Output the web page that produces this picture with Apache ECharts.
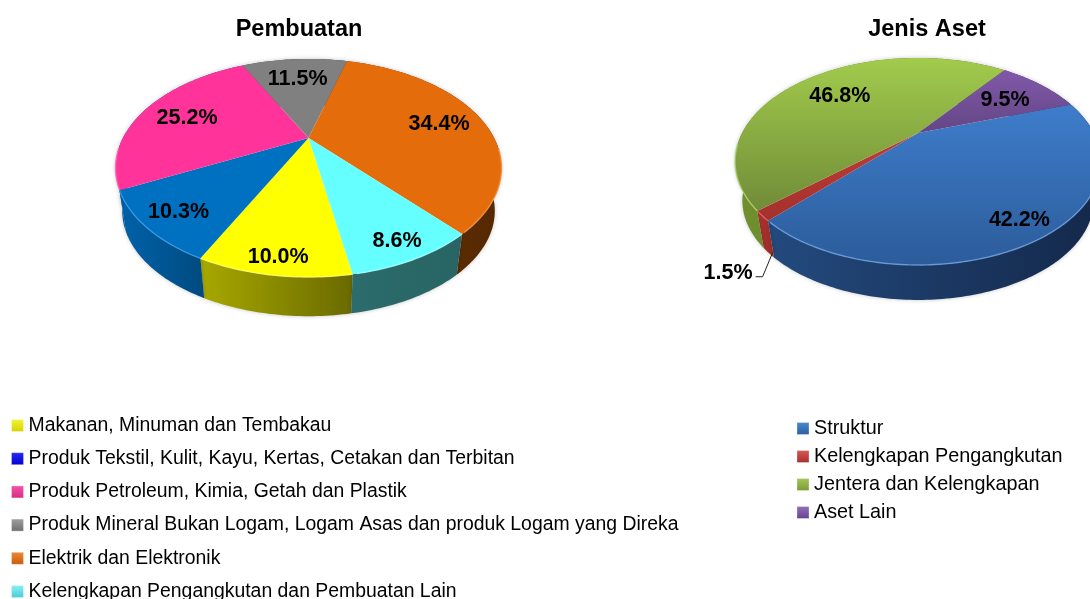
<!DOCTYPE html>
<html>
<head>
<meta charset="utf-8">
<style>html,body{margin:0;padding:0;background:#fff;overflow:hidden}#c{width:1090px;height:599px}</style>
<script src="https://cdn.jsdelivr.net/npm/echarts@6/dist/echarts.min.js"></script>
</head>
<body>
<div id="c"></div>
<script>
// ---------- data ----------
const makingTitle = 'Pembuatan';
const makingCategories = [
  'Makanan, Minuman dan Tembakau',
  'Produk Tekstil, Kulit, Kayu, Kertas, Cetakan dan Terbitan',
  'Produk Petroleum, Kimia, Getah dan Plastik',
  'Produk Mineral Bukan Logam, Logam Asas dan produk Logam yang Direka',
  'Elektrik dan Elektronik',
  'Kelengkapan Pengangkutan dan Pembuatan Lain'
];
const makingValues = [10.0, 10.3, 25.2, 11.5, 34.4, 8.6];

const assetTitle = 'Jenis Aset';
const assetCategories = ['Struktur', 'Kelengkapan Pengangkutan', 'Jentera dan Kelengkapan', 'Aset Lain'];
const assetValues = [42.2, 1.5, 46.8, 9.5];

// ---------- styling ----------
const makingStyle = {
  top: [['#ffff00','#ffff00'],['#0070c0','#0070c0'],['#ff3399','#ff3399'],['#808080','#808080'],['#e46c0a','#e46c0a'],['#66ffff','#66ffff']],
  side: [['#a8a800','#6a6a00'],['#0062aa','#004a7f'],['#005c9e','#005c9e'],['#505050','#404040'],['#6a3405','#542800'],['#2c6c6c','#286464']],
  rim: ['#ffff66','#3c9ee8','#ff77bb','#aaaaaa','#f59a50','#a8ffff'],
  legend: [['#f4f43c','#d2d200'],['#2a2af5','#0000d2'],['#f555a8','#d82a85'],['#a0a0a0','#6e6e6e'],['#ee8a3a','#c85a08'],['#8ff0f4','#45ccd6']],
  labelR: [0.89, 0.835, 0.734, 0.73, 0.755, 0.87]
};
const assetStyle = {
  top: [['#3e7dcb','#2c5c9a'],['#c03c38','#a4302c'],['#a2cb4c','#708c38'],['#8158aa','#634684']],
  side: [['#234a7e','#14284a'],['#b03430','#962a26'],['#70902f','#5c7828'],['#4c3468','#3e2a56']],
  rim: ['#6ea4e4','#d86a66','#b5d67a','#a080c4'],
  legend: [['#4d8ad0','#285f9f'],['#d65a56','#a82e2c'],['#a4c85a','#7a9a32'],['#9570bc','#65428e']],
  labelR: [0.85, null, 0.68, 0.68]
};
const makingGeom = { cx: 308.5, ay: 138, rx: 185.6, ry: 100.8, bx: 308.5, by: 182, scale: 0.965, k: 0.275, start: 170 };
const assetGeom  = { cx: 918, ay: 133, rx: 175.9, ry: 95.7, bx: 918, by: 173.2, scale: 0.96, k: 0.275, start: 71 };
const labelFont = { fontFamily: 'Liberation Sans', fontWeight: 'bold', fontSize: 21.5, fill: '#000' };

// ---------- projection of the disc with perspective ----------
function project(g, deg, r, level) {
  const a = deg * Math.PI / 180;
  const u = r * Math.sin(a), v = -r * Math.cos(a), w = 1 - g.k * v;
  if (level === 1) return [g.bx + g.scale * g.rx * u / w, g.by + g.scale * g.ry * v / w];
  return [g.cx + g.rx * u / w, g.ay + g.ry * v / w];
}
function arc(g, from, to, level) {
  const pts = [], n = Math.max(2, Math.ceil(to - from));
  for (let i = 0; i <= n; i++) pts.push(project(g, from + (to - from) * i / n, 1, level));
  return pts;
}
function range(values, start, i) {
  const total = values.reduce((s, x) => s + x, 0);
  const before = values.slice(0, i).reduce((s, x) => s + x, 0);
  return [start + before / total * 360, start + (before + values[i]) / total * 360];
}
function vGrad(c) { return new echarts.graphic.LinearGradient(0, 0, 0, 1, [{offset:0,color:c[0]},{offset:1,color:c[1]}]); }
function hGrad(c) { return new echarts.graphic.LinearGradient(0, 0, 1, 0, [{offset:0,color:c[0]},{offset:1,color:c[1]}]); }

function sideSeries(name, values, g, st) {
  return values.map((val, i) => ({
    type: 'custom', coordinateSystem: 'none', name: name + ' sisi ' + i, z: 1, silent: true, animation: false,
    data: [[val]],
    renderItem: function () {
      const [a, b] = range(values, g.start, i);
      const pts = arc(g, a, b, 0).concat(arc(g, a, b, 1).reverse());
      return { type: 'polygon', shape: { points: pts },
        style: { fill: hGrad(st.side[i]), shadowBlur: 4, shadowColor: 'rgba(0,0,0,0.22)' } };
    }
  }));
}
function topSeries(names, values, g, st, leader) {
  return names.map((name, i) => ({
    type: 'custom', coordinateSystem: 'none', name: name, z: 2, silent: true, animation: false,
    itemStyle: { color: st.legend[i][1] },
    data: [[values[i]]],
    renderItem: function (params, api) {
      const val = api.value(0);
      const [a, b] = range(values, g.start, i);
      const apex = [g.cx, g.ay];
      const children = [{ type: 'polygon', shape: { points: [apex].concat(arc(g, a, b, 0)) },
        style: { fill: vGrad(st.top[i]) } }];
      const rim = [];
      for (let d = a; d <= b; d += 1) { if (Math.cos(d * Math.PI / 180) < -0.1) rim.push(project(g, d, 1, 0)); }
      if (rim.length > 1) children.push({ type: 'polyline', shape: { points: rim },
        style: { fill: null, stroke: st.rim[i], lineWidth: 1.4, opacity: 0.8 } });
      const mid = (a + b) / 2;
      const text = val.toFixed(1) + '%';
      if (st.labelR[i]) {
        const p = project(g, mid, st.labelR[i], 0);
        children.push({ type: 'text', z2: 50, style: Object.assign({ text: text, x: p[0], y: p[1] + 2, align: 'center', verticalAlign: 'middle' }, labelFont) });
      } else if (leader) {
        const e = project(g, mid, 1, 1);
        const pts = leader.line.map(o => [e[0] + o[0], e[1] + o[1]]);
        children.push({ type: 'polyline', z2: 50, shape: { points: pts }, style: { fill: null, stroke: '#222', lineWidth: 1 } });
        children.push({ type: 'text', z2: 50, style: Object.assign({ text: text, x: e[0] + leader.text[0], y: e[1] + leader.text[1], align: 'right', verticalAlign: 'middle' }, labelFont) });
      }
      return { type: 'group', children: children };
    }
  }));
}
const legendText = (size) => ({ fontFamily: 'Liberation Sans', fontSize: size, color: '#000' });
function legendData(names, st) {
  return names.map((n, i) => ({ name: n, icon: 'rect', itemStyle: { color: vGrad(st.legend[i]), borderColor: 'rgba(255,255,255,0.3)', borderWidth: 1 } }));
}

const chart = echarts.init(document.getElementById('c'), null, { renderer: 'canvas', width: 1090, height: 599 });
chart.setOption({
  animation: false,
  backgroundColor: '#fff',
  title: [
    { text: makingTitle, left: 294, top: 13, textAlign: 'center', textStyle: { fontFamily: 'Liberation Sans', fontWeight: 'bold', fontSize: 23.5, color: '#000' } },
    { text: assetTitle, left: 922, top: 13, textAlign: 'center', textStyle: { fontFamily: 'Liberation Sans', fontWeight: 'bold', fontSize: 23.5, color: '#000' } }
  ],
  legend: [
    { orient: 'vertical', left: 11, top: 416, height: 260, itemWidth: 12, itemHeight: 12, itemGap: 14.2, selectedMode: false, padding: 0,
      textStyle: legendText(19.4), data: legendData(makingCategories, makingStyle) },
    { orient: 'vertical', left: 796.5, top: 418.5, height: 160, itemWidth: 12, itemHeight: 12, itemGap: 8, selectedMode: false, padding: 0,
      textStyle: legendText(19.8), data: legendData(assetCategories, assetStyle) }
  ],
  series: [].concat(
    sideSeries('Pembuatan', makingValues, makingGeom, makingStyle),
    sideSeries('Aset', assetValues, assetGeom, assetStyle),
    topSeries(makingCategories, makingValues, makingGeom, makingStyle),
    topSeries(assetCategories, assetValues, assetGeom, assetStyle, { line: [[4, 0], [-6, 24], [-13, 24]], text: [-16, 20] })
  )
});
</script>
</body>
</html>
